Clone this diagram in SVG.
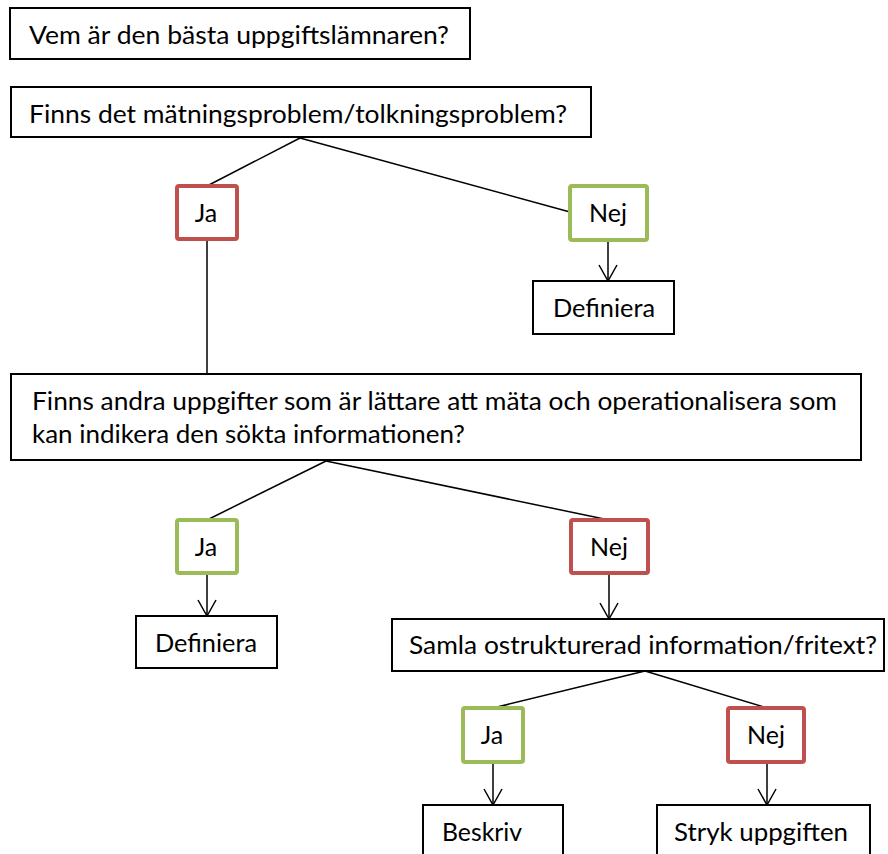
<svg xmlns="http://www.w3.org/2000/svg" width="888" height="854" viewBox="0 0 888 854">
<defs>
<style>
text{font-family:Lato,"Liberation Sans","DejaVu Sans",sans-serif;font-size:25px;fill:#000}
.box{fill:#fff;stroke:#000;stroke-width:2}
.red{fill:#fff;stroke:#C0504D;stroke-width:4}
.green{fill:#fff;stroke:#9BBB59;stroke-width:4}
.mid{text-anchor:middle}
.conn line{stroke:#000;stroke-width:1.5}
.arr{marker-end:url(#ah)}
</style>
<marker id="ah" markerUnits="userSpaceOnUse" markerWidth="22" markerHeight="22" viewBox="-19 -11 22 22" refX="0" refY="0" orient="auto">
<path d="M-16,-9 L0,0 L-16,9" fill="none" stroke="#000" stroke-width="1.5"/>
</marker>
</defs>
<rect width="888" height="854" fill="#fff"/>
<g id="connectors" class="conn">
<line x1="300" y1="138" x2="207" y2="186"/>
<line x1="300" y1="138" x2="570" y2="212"/>
<line class="arr" x1="608" y1="241" x2="608" y2="281"/>
<line x1="207" y1="241" x2="207" y2="374"/>
<line x1="326" y1="461" x2="207" y2="520"/>
<line x1="326" y1="461" x2="609" y2="520"/>
<line class="arr" x1="207" y1="574" x2="207" y2="616"/>
<line class="arr" x1="609" y1="574" x2="609" y2="619"/>
<line x1="645" y1="671" x2="493" y2="708"/>
<line x1="645" y1="671" x2="767" y2="708"/>
<line class="arr" x1="493" y1="763" x2="493" y2="805"/>
<line class="arr" x1="767" y1="763" x2="767" y2="805"/>
</g>
<g id="n-vem">
<rect class="box" x="10" y="8" width="460" height="51"/>
<text x="29" y="44" textLength="420" lengthAdjust="spacingAndGlyphs">Vem är den bästa uppgiftslämnaren?</text>
</g>
<g id="n-finns1">
<rect class="box" x="11" y="87" width="580" height="50"/>
<text x="29" y="123" textLength="538" lengthAdjust="spacingAndGlyphs">Finns det mätningsproblem/tolkningsproblem?</text>
</g>
<g id="n-ja1">
<rect class="red" x="177" y="186" width="60" height="53" rx="2"/>
<text class="mid" x="206" y="222">Ja</text>
</g>
<g id="n-nej1">
<rect class="green" x="570" y="186" width="77" height="54" rx="2"/>
<text class="mid" x="608" y="222">Nej</text>
</g>
<g id="n-def1">
<rect class="box" x="533" y="281" width="141" height="53"/>
<text class="mid" x="604" y="317" textLength="102" lengthAdjust="spacingAndGlyphs">Definiera</text>
</g>
<g id="n-finns2">
<rect class="box" x="11" y="374" width="850" height="86"/>
<text x="32" y="410" textLength="805" lengthAdjust="spacingAndGlyphs">Finns andra uppgifter som är lättare att mäta och operationalisera som</text>
<text x="32" y="443" textLength="433" lengthAdjust="spacingAndGlyphs">kan indikera den sökta informationen?</text>
</g>
<g id="n-ja2">
<rect class="green" x="177" y="520" width="60" height="53" rx="2"/>
<text class="mid" x="206" y="556">Ja</text>
</g>
<g id="n-nej2">
<rect class="red" x="571" y="520" width="77" height="53" rx="2"/>
<text class="mid" x="609" y="556">Nej</text>
</g>
<g id="n-def2">
<rect class="box" x="136" y="616" width="141" height="52"/>
<text class="mid" x="206" y="652" textLength="102" lengthAdjust="spacingAndGlyphs">Definiera</text>
</g>
<g id="n-samla">
<rect class="box" x="392" y="619" width="492" height="52"/>
<text x="409" y="654" textLength="468" lengthAdjust="spacingAndGlyphs">Samla ostrukturerad information/fritext?</text>
</g>
<g id="n-ja3">
<rect class="green" x="463" y="708" width="60" height="54" rx="2"/>
<text class="mid" x="492" y="744">Ja</text>
</g>
<g id="n-nej3">
<rect class="red" x="728" y="708" width="76" height="54" rx="2"/>
<text class="mid" x="766" y="744">Nej</text>
</g>
<g id="n-beskriv">
<rect class="box" x="423" y="805" width="140" height="65"/>
<text x="442" y="841" textLength="80" lengthAdjust="spacingAndGlyphs">Beskriv</text>
</g>
<g id="n-stryk">
<rect class="box" x="657" y="805" width="213" height="65"/>
<text x="674" y="841" textLength="174" lengthAdjust="spacingAndGlyphs">Stryk uppgiften</text>
</g>
</svg>
